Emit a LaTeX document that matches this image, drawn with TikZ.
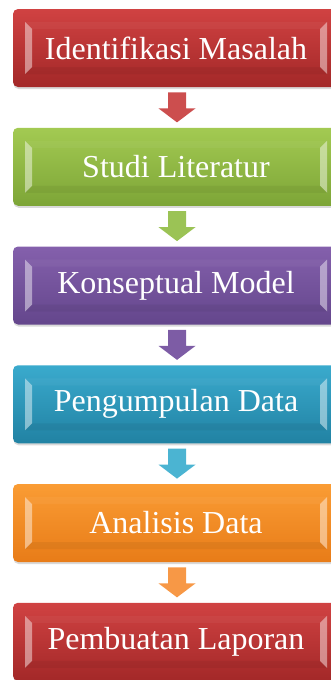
\documentclass[tikz,border=0pt]{standalone}
\usepackage{fontspec}
\setmainfont{Liberation Serif}
\usepackage{xcolor}
\usetikzlibrary{calc,shadows}

\definecolor{redTop}{RGB}{208,66,66}
\definecolor{redBot}{RGB}{163,40,40}
\definecolor{redArr}{RGB}{204,78,78}
\definecolor{grnTop}{RGB}{163,202,82}
\definecolor{grnBot}{RGB}{125,165,55}
\definecolor{grnArr}{RGB}{155,195,85}
\definecolor{purTop}{RGB}{132,96,172}
\definecolor{purBot}{RGB}{100,70,140}
\definecolor{purArr}{RGB}{125,92,165}
\definecolor{tealTop}{RGB}{58,170,205}
\definecolor{tealBot}{RGB}{33,130,163}
\definecolor{tealArr}{RGB}{75,180,210}
\definecolor{orgTop}{RGB}{250,156,52}
\definecolor{orgBot}{RGB}{232,124,24}
\definecolor{orgArr}{RGB}{247,152,70}

\begin{document}
\begin{tikzpicture}[x=1pt,y=-1pt,
	box/.style={rounded corners=5pt, minimum width=326pt, minimum height=78pt, inner sep=0pt,
		text=white, font=\fontsize{32}{37}\selectfont,
		drop shadow={shadow xshift=0.5pt,shadow yshift=-2pt,opacity=0.3},
		path picture={
			\fill[white,opacity=0.45,sharp corners] ($(path picture bounding box.north west)+(12pt,-13pt)$) -- ++(7pt,-7pt) -- ($(path picture bounding box.south west)+(19pt,20pt)$) -- ++(-7pt,-7pt) -- cycle;
			\fill[white,opacity=0.45,sharp corners] ($(path picture bounding box.north east)+(-12pt,-13pt)$) -- ++(-7pt,-7pt) -- ($(path picture bounding box.south east)+(-19pt,20pt)$) -- ++(7pt,-7pt) -- cycle;
			\fill[white,opacity=0.04,sharp corners] ($(path picture bounding box.north west)+(12pt,-13pt)$) -- ($(path picture bounding box.north east)+(-12pt,-13pt)$) -- ++(-7pt,-7pt) -- ($(path picture bounding box.north west)+(19pt,-20pt)$) -- cycle;
			\fill[black,opacity=0.05,sharp corners] ($(path picture bounding box.south west)+(12pt,13pt)$) -- ($(path picture bounding box.south east)+(-12pt,13pt)$) -- ++(-7pt,7pt) -- ($(path picture bounding box.south west)+(19pt,20pt)$) -- cycle;
		}},
	arrowdown/.pic={\fill (-9,-15) -- (9,-15) -- (9,1) -- (18.5,1) -- (0,15) -- (-18.5,1) -- (-9,1) -- cycle;},
	arrshadow/.style={drop shadow={shadow xshift=0.5pt,shadow yshift=-1.5pt,opacity=0.25}}
]
	\useasboundingbox (0,0) rectangle (330,680);

	% the steps
	\node[box,top color=redTop,bottom color=redBot] (idm) at (176,48) {Identifikasi Masalah};
	\node[box,top color=grnTop,bottom color=grnBot] (stl) at (176,166.75) {Studi Literatur};
	\node[box,top color=purTop,bottom color=purBot] (kpm) at (176,285.5) {Konseptual Model};
	\node[box,top color=tealTop,bottom color=tealBot] (pgd) at (176,404.25) {Pengumpulan Data};
	\node[box,top color=orgTop,bottom color=orgBot] (anl) at (176,523) {Analisis Data};
	\node[box,top color=redTop,bottom color=redBot] (pbl) at (176,641.75) {Pembuatan Laporan};

	% arrows between them
	\pic[fill=redArr,arrshadow] at ($(idm.south)!0.5!(stl.north)+(1pt,0)$) {arrowdown};
	\pic[fill=grnArr,arrshadow] at ($(stl.south)!0.5!(kpm.north)+(1pt,0)$) {arrowdown};
	\pic[fill=purArr,arrshadow] at ($(kpm.south)!0.5!(pgd.north)+(1pt,0)$) {arrowdown};
	\pic[fill=tealArr,arrshadow] at ($(pgd.south)!0.5!(anl.north)+(1pt,0)$) {arrowdown};
	\pic[fill=orgArr,arrshadow] at ($(anl.south)!0.5!(pbl.north)+(1pt,0)$) {arrowdown};
\end{tikzpicture}
\end{document}
